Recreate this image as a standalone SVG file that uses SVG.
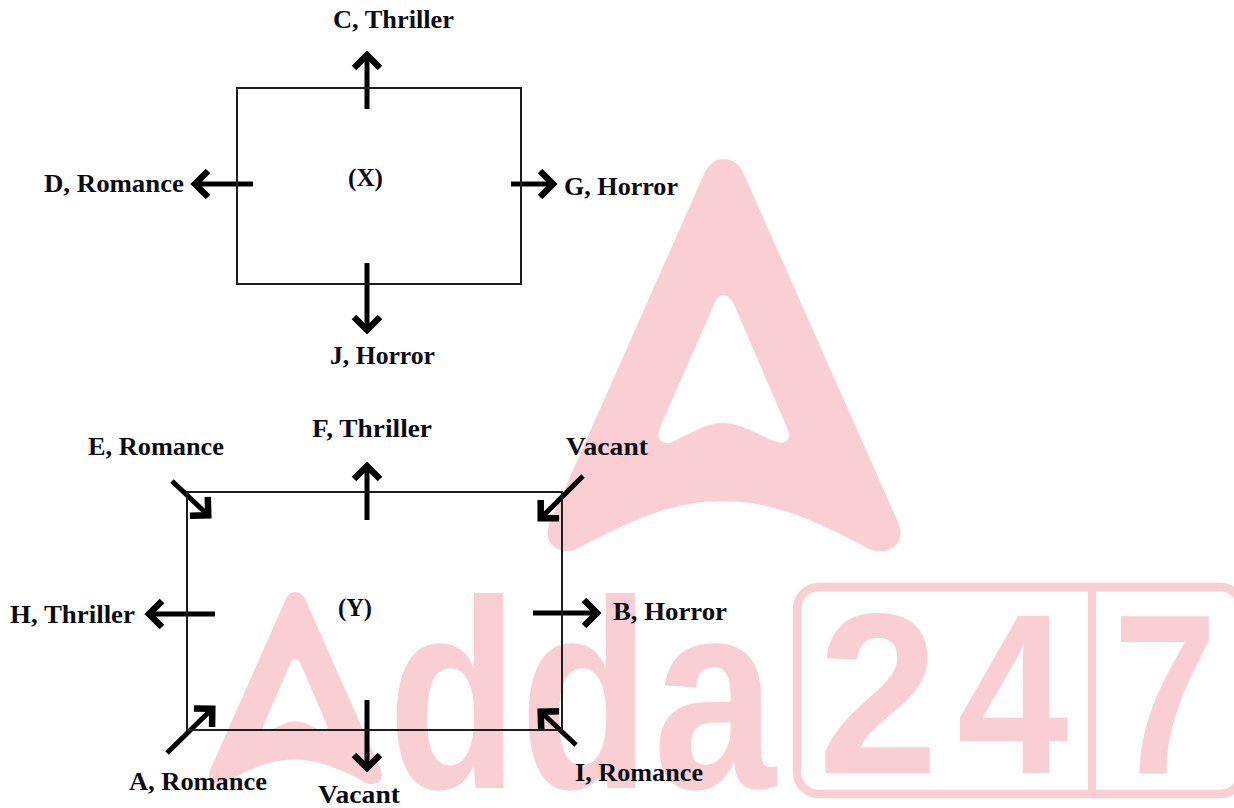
<svg xmlns="http://www.w3.org/2000/svg" xmlns:xlink="http://www.w3.org/1999/xlink" width="1234" height="808" viewBox="0 0 1234 808">
<style>
.wm{fill:#f9cfd3;font-family:"Liberation Sans",Arial,sans-serif;font-weight:700}
.box{fill:none;stroke:#1e1e1e;stroke-width:2}
.lb{font-family:"Liberation Serif","Times New Roman",serif;font-weight:700;font-size:26px;fill:#0b0b14}
.ar{fill:none;stroke:#000;stroke-width:5;marker-end:url(#h)}
</style>
<defs>
<marker id="h" markerUnits="userSpaceOnUse" markerWidth="34" markerHeight="40" refX="27" refY="20" orient="auto">
<path d="M13 7 L26 20 L13 33" fill="none" stroke="#000" stroke-width="6.5"/>
</marker>
<path id="logoA" fill-rule="evenodd" d="M705 172 Q712 159 723 159 Q736 159 743 172 L898 522 Q905 540 892 548 Q879 556 862 545 C810 518 770 501 723 501 C676 501 636 518 584 545 Q567 556 556 548 Q543 540 550 522 Z M715 302 L659 430 Q656 440 665 443 Q670 444 674 441 C695 431 708 423 723 423 C738 423 751 431 774 441 Q780 444 785 442 Q792 438 788 430 L733 302 Q728 295 723 295 Q718 295 715 302 Z"/>
</defs>
<rect width="1234" height="808" fill="#fff"/>
<g id="watermark">
<use xlink:href="#logoA" href="#logoA" fill="#f9cfd3"/>
<use xlink:href="#logoA" href="#logoA" fill="#f9cfd3" transform="translate(295 592) scale(.49) translate(-723 -159)"/>
<text class="wm" font-size="269" transform="translate(388 788) scale(.79 1)">d</text>
<text class="wm" font-size="269" transform="translate(520 788) scale(.79 1)">d</text>
<text class="wm" font-size="269" transform="translate(653 788) scale(.82 1)">a</text>
<rect x="797" y="587" width="445" height="207" rx="22" fill="none" stroke="#f9cfd3" stroke-width="8.5"/>
<rect x="1088" y="587" width="8" height="207" fill="#f9cfd3"/>
<text class="wm" font-size="228" transform="translate(818 773) scale(.95 1)">2</text>
<text class="wm" font-size="228" transform="translate(957 773) scale(.88 1)">4</text>
<text class="wm" font-size="228" transform="translate(1113 773) scale(.82 1)">7</text>
</g>
<g id="connectors">
<line class="ar" x1="367" y1="109" x2="367" y2="54"/>
<line class="ar" x1="253" y1="184" x2="194" y2="184"/>
<line class="ar" x1="511" y1="184" x2="554" y2="184"/>
<line class="ar" x1="367" y1="263" x2="367" y2="331"/>
<line class="ar" x1="367" y1="520" x2="367" y2="465"/>
<line class="ar" x1="172" y1="481" x2="209" y2="516"/>
<line class="ar" x1="583" y1="476" x2="540" y2="519"/>
<line class="ar" x1="215" y1="614" x2="148" y2="614"/>
<line class="ar" x1="533" y1="613" x2="598" y2="613"/>
<line class="ar" x1="167" y1="753" x2="213" y2="708"/>
<line class="ar" x1="576" y1="745" x2="540" y2="711"/>
<line class="ar" x1="367" y1="700" x2="367" y2="769"/>
</g>
<g id="box-x"><rect class="box" x="237" y="88" width="284" height="196"/><text class="lb" x="348" y="186" textLength="35" lengthAdjust="spacingAndGlyphs">(X)</text></g>
<g id="box-y"><rect class="box" x="187" y="492" width="375" height="238"/><text class="lb" x="338" y="616" textLength="34" lengthAdjust="spacingAndGlyphs">(Y)</text></g>
<g id="node-c"><text class="lb" x="333" y="28" textLength="121" lengthAdjust="spacingAndGlyphs">C, Thriller</text></g>
<g id="node-d"><text class="lb" x="44" y="192" textLength="140" lengthAdjust="spacingAndGlyphs">D, Romance</text></g>
<g id="node-g"><text class="lb" x="564" y="195" textLength="114" lengthAdjust="spacingAndGlyphs">G, Horror</text></g>
<g id="node-j"><text class="lb" x="330" y="364" textLength="105" lengthAdjust="spacingAndGlyphs">J, Horror</text></g>
<g id="node-f"><text class="lb" x="312" y="437" textLength="120" lengthAdjust="spacingAndGlyphs">F, Thriller</text></g>
<g id="node-e"><text class="lb" x="88" y="455" textLength="136" lengthAdjust="spacingAndGlyphs">E, Romance</text></g>
<g id="node-vacant-1"><text class="lb" x="566" y="455" textLength="82" lengthAdjust="spacingAndGlyphs">Vacant</text></g>
<g id="node-h"><text class="lb" x="10" y="623" textLength="125" lengthAdjust="spacingAndGlyphs">H, Thriller</text></g>
<g id="node-b"><text class="lb" x="613" y="620" textLength="114" lengthAdjust="spacingAndGlyphs">B, Horror</text></g>
<g id="node-a"><text class="lb" x="129" y="790" textLength="138" lengthAdjust="spacingAndGlyphs">A, Romance</text></g>
<g id="node-i"><text class="lb" x="575" y="781" textLength="128" lengthAdjust="spacingAndGlyphs">I, Romance</text></g>
<g id="node-vacant-2"><text class="lb" x="318" y="803" textLength="82" lengthAdjust="spacingAndGlyphs">Vacant</text></g>
</svg>
